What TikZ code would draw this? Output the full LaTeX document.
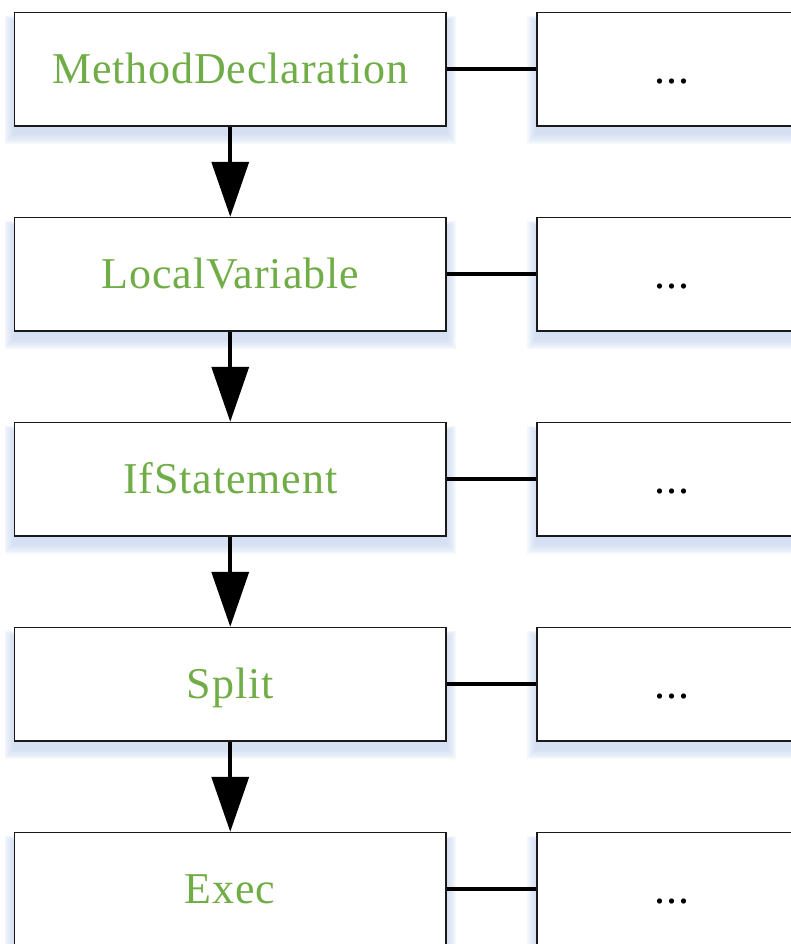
\documentclass[tikz,border=0pt]{standalone}
\usepackage{fontspec}
\setmainfont{Liberation Serif}[LetterSpace=2.0]
\usetikzlibrary{arrows.meta,backgrounds}
\definecolor{labelgreen}{HTML}{70AD47}
\definecolor{shadowblue}{HTML}{C6D6EE}
\definecolor{boxline}{HTML}{1A1A1A}

\tikzset{
  box/.style={rectangle, draw=boxline, line width=1.4pt, fill=white,
    inner sep=0pt, text height=29pt, text depth=0pt,
    font=\fontsize{44}{50}\selectfont},
  stepbox/.style={box, minimum width=431.5pt, minimum height=113.5pt, text=labelgreen},
  morebox/.style={box, minimum width=270pt, minimum height=113.5pt, text=black},
  flowarrow/.style={line width=3.6pt, -{Triangle[length=55pt,width=37pt]}},
  link/.style={line width=3.6pt}
}

\begin{document}
\begin{tikzpicture}[x=1pt,y=-1pt]
\useasboundingbox (0,0) rectangle (791,944);
\clip (0,0) rectangle (791,944);

% chain of statement boxes and their detail boxes
\node[stepbox] (m1) at (230.25,69.25) {MethodDeclaration};
\node[stepbox] (m2) at (230.25,274.25) {LocalVariable};
\node[stepbox] (m3) at (230.25,479.25) {IfStatement};
\node[stepbox] (m4) at (230.25,684.25) {Split};
\node[stepbox] (m5) at (230.25,889.25) {Exec};

\node[morebox] (r1) at (672,69.25) {...};
\node[morebox] (r2) at (672,274.25) {...};
\node[morebox] (r3) at (672,479.25) {...};
\node[morebox] (r4) at (672,684.25) {...};
\node[morebox] (r5) at (672,889.25) {...};

% soft bluish shadows under every box
\begin{scope}[on background layer]
  \foreach \n in {m1,m2,m3,m4,m5,r1,r2,r3,r4,r5} {
    \foreach \k in {0,...,5} {
      \fill[shadowblue, opacity=0.2]
        ([shift={(-1-1.6*\k,9-1.0*\k)}]\n.north west)
        rectangle ([shift={(1+1.6*\k,8+1.8*\k)}]\n.south east);
    }
  }
\end{scope}

% flow arrows
\draw[flowarrow] (m1.south) -- (m2.north);
\draw[flowarrow] (m2.south) -- (m3.north);
\draw[flowarrow] (m3.south) -- (m4.north);
\draw[flowarrow] (m4.south) -- (m5.north);

% links to detail boxes
\draw[link] (m1.east) -- (r1.west);
\draw[link] (m2.east) -- (r2.west);
\draw[link] (m3.east) -- (r3.west);
\draw[link] (m4.east) -- (r4.west);
\draw[link] (m5.east) -- (r5.west);
\end{tikzpicture}
\end{document}
